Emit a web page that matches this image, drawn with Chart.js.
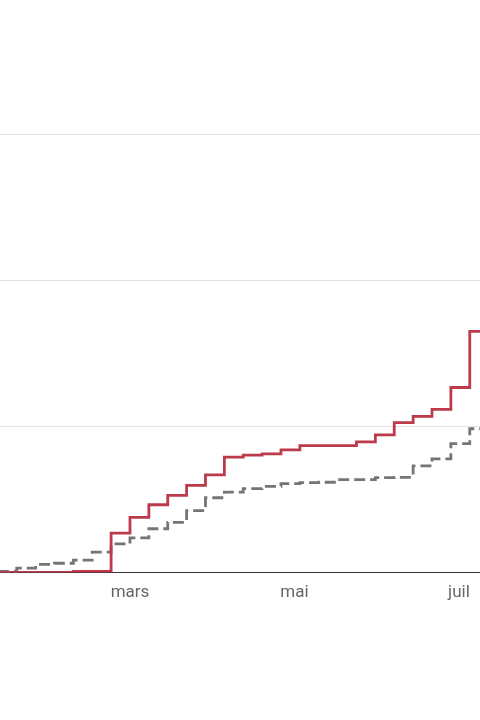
<!DOCTYPE html>
<html>
<head>
<meta charset="utf-8">
<script src="https://cdn.jsdelivr.net/npm/chart.js@4.4.0/dist/chart.umd.min.js"></script>
<style>
  html, body { margin: 0; padding: 0; background: #fff; }
  #wrap { width: 480px; height: 720px; }
</style>
</head>
<body>
<div id="wrap"><canvas id="myChart"></canvas></div>
<script>
// weekly dates (the last one is only there to carry the final step past the edge)
var dates = ['2020-01-12', '2020-01-19', '2020-01-26', '2020-02-02', '2020-02-09', '2020-02-16',
  '2020-02-23', '2020-03-01', '2020-03-08', '2020-03-15', '2020-03-22', '2020-03-29',
  '2020-04-05', '2020-04-12', '2020-04-19', '2020-04-26', '2020-05-03', '2020-05-10',
  '2020-05-17', '2020-05-24', '2020-05-31', '2020-06-07', '2020-06-14', '2020-06-21',
  '2020-06-28', '2020-07-05', '2020-07-12'];

var redValues = [0.1, 0.1, 0.1, 0.1, 0.4, 0.4,
  13.5, 18.9, 23.2, 26.4, 29.8, 33.4,
  39.5, 40.2, 40.6, 42.0, 43.4, 43.4,
  43.4, 44.7, 47.1, 51.3, 53.4, 55.8,
  63.3, 82.5, 82.5];

var greyValues = [0.45, 1.5, 2.8, 3.2, 4.3, 7.0,
  9.8, 11.9, 15.0, 17.2, 21.2, 25.6,
  27.5, 28.7, 29.5, 30.4, 30.8, 30.9,
  31.8, 31.8, 32.5, 32.6, 36.5, 38.9,
  44.1, 49.2, 49.2];

// month ticks (day of year 2020) and their labels
var monthTicks = [60, 121, 182];
var monthLabels = ['mars', 'mai', 'juil'];

var yTicks = [0, 50, 100, 150];

function dayOfYear(s) {
    var p = s.split('-');
    return (Date.UTC(+p[0], +p[1] - 1, +p[2]) - Date.UTC(+p[0], 0, 1)) / 86400000;
}

function toPoints(values) {
    return dates.map(function(d, i) {
        return { x: dayOfYear(d), y: values[i] };
    });
}

function renderChart() {
    var ctx = document.getElementById('myChart').getContext('2d');
    new Chart(ctx, {
        type: 'line',
        data: {
            datasets: [{
                data: toPoints(redValues),
                borderColor: '#bd3a4b',
                borderWidth: 2.8,
                stepped: 'before',
                pointRadius: 0,
                fill: false
            }, {
                data: toPoints(greyValues),
                borderColor: '#757575',
                borderWidth: 2.8,
                borderDash: [11, 5],
                stepped: 'before',
                pointRadius: 0,
                fill: false
            }]
        },
        options: {
            responsive: true,
            maintainAspectRatio: false,
            animation: false,
            layout: { padding: { top: 134, bottom: 107, left: 0, right: 0 } },
            plugins: { legend: { display: false }, tooltip: { enabled: false } },
            scales: {
                x: {
                    type: 'linear',
                    min: 11.8,
                    max: 189.8,
                    afterBuildTicks: function(axis) {
                        axis.ticks = monthTicks.map(function(v) { return { value: v }; });
                    },
                    ticks: {
                        autoSkip: false,
                        maxRotation: 0,
                        padding: 10,
                        color: '#666666',
                        font: { family: 'Roboto', size: 17 },
                        callback: function(v) {
                            var i = monthTicks.indexOf(v);
                            return i >= 0 ? monthLabels[i] : '';
                        }
                    },
                    grid: { display: false, drawTicks: false },
                    border: { display: true, color: '#333333', width: 1 }
                },
                y: {
                    min: 0,
                    max: 150,
                    afterBuildTicks: function(axis) {
                        axis.ticks = yTicks.map(function(v) { return { value: v }; });
                    },
                    ticks: { display: false },
                    grid: { color: '#e3e3e3', lineWidth: 1, drawTicks: false },
                    border: { display: false }
                }
            }
        }
    });
}
window.onload = renderChart;
</script>
</body>
</html>
